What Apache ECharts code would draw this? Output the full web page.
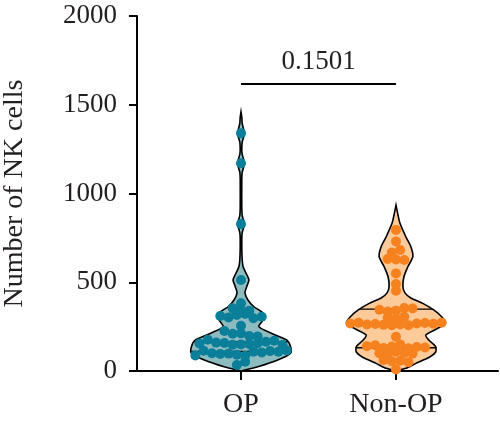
<!DOCTYPE html>
<html><head><meta charset="utf-8">
<script src="https://cdn.jsdelivr.net/npm/echarts@6/dist/echarts.min.js"></script>
<style>html,body{margin:0;padding:0;background:#fff}#c{width:500px;height:429px}</style>
</head><body><div id="c"></div>
<script>
// ---------- data ----------
const categories = ['OP', 'Non-OP'];
const categoryPositions = [1, 2];
const yAxisName = 'Number of NK cells';
const yMin = 0, yMax = 2000, yStep = 500;

// values read row by row (bottom to top, left to right within a row)
const opValues = [34, 52,
  88, 114, 100, 96, 98, 92, 86, 109, 104, 112, 108, 116,
  155, 176, 160, 158, 148, 150, 152, 156, 165, 170, 146,
  225, 210, 212, 197, 195,
  255,
  310, 302, 315, 321, 297, 306,
  353, 340, 340,
  381, 513, 828, 1170, 1340];

const nonOpValues = [8,
  62, 55, 58, 50,
  100, 95, 108, 102, 98,
  140, 145, 130, 138, 150, 128, 135, 132,
  193,
  268, 272, 262, 265, 260, 258, 262, 258, 268, 270, 266, 272,
  300, 295, 305,
  345, 335, 340, 355, 352,
  452, 490, 550, 631, 628, 625, 667, 682, 730, 795];

// violin outlines: level (y value) and relative density (1 = widest)
const opViolinLevels  = [0, 24, 62, 101, 137, 175, 214, 250, 287, 327, 362, 400, 440, 479, 513, 552, 590, 650, 740, 780, 805, 828, 851, 876, 920, 1080, 1120, 1145, 1170, 1195, 1220, 1250, 1290, 1315, 1340, 1365, 1395, 1430, 1460];
const opViolinDensity = [0, 0.34, 0.74, 1.0, 1.0, 0.92, 0.6, 0.36, 0.44, 0.44, 0.26, 0.14, 0.08, 0.12, 0.16, 0.1, 0.04, 0.02, 0.016, 0.024, 0.05, 0.07, 0.05, 0.024, 0.016, 0.016, 0.024, 0.05, 0.07, 0.05, 0.024, 0.016, 0.024, 0.05, 0.07, 0.05, 0.024, 0.016, 0];

const nonOpViolinLevels  = [0, 15, 43, 79, 107, 137, 175, 203, 240, 272, 306, 344, 381, 411, 440, 475, 531, 588, 644, 700, 755, 832, 879, 935];
const nonOpViolinDensity = [0, 0.2, 0.4, 0.68, 0.8, 0.8, 0.66, 0.6, 0.84, 1.0, 0.92, 0.76, 0.54, 0.3, 0.18, 0.14, 0.16, 0.24, 0.34, 0.3, 0.2, 0.08, 0.04, 0];

const comparisonLevel = 1617;
const comparisonText = '0.1501';

// ---------- styling ----------
const FONT = 'Liberation Serif';
const groups = [
  {name: categories[0], pos: categoryPositions[0], values: opValues, levels: opViolinLevels, dens: opViolinDensity, dot: '#0b7f99', fill: '#8dbcc0'},
  {name: categories[1], pos: categoryPositions[1], values: nonOpValues, levels: nonOpViolinLevels, dens: nonOpViolinDensity, dot: '#f5821f', fill: '#fdca9a'}
];
const MAXW = 0.32;      // half width (x units) at density 1
const DOT = 10, SPACING = 8.3, ROWH = 5.5;

function quantile(arr, p) {
  const s = arr.slice().sort((a, b) => a - b);
  const h = (s.length + 1) * p - 1;
  const lo = Math.max(0, Math.floor(h)), hi = Math.min(s.length - 1, lo + 1);
  return s[lo] + (s[hi] - s[lo]) * (h - lo);
}
function densAt(g, v) {
  for (let i = 0; i < g.levels.length - 1; i++) {
    if (v >= g.levels[i] && v <= g.levels[i + 1]) {
      const t = (v - g.levels[i]) / (g.levels[i + 1] - g.levels[i]);
      return g.dens[i] + (g.dens[i + 1] - g.dens[i]) * t;
    }
  }
  return 0;
}

const chart = echarts.init(document.getElementById('c'));
const xMin = 1 - 104 / 155, xMax = xMin + 361 / 155;

const baseOption = {
  animation: false,
  grid: {left: 137, right: 2, top: 16, bottom: 58, containLabel: false, outerBoundsMode: 'none'},
  xAxis: {
    type: 'value', min: xMin, max: xMax,
    axisLine: {show: true, onZero: false, lineStyle: {color: '#000', width: 2}},
    axisTick: {show: true, customValues: categoryPositions, length: 9, lineStyle: {color: '#000', width: 2}},
    axisLabel: {show: true, customValues: categoryPositions, margin: 20, color: '#231f20', fontFamily: FONT, fontSize: 28,
      formatter: v => categories[categoryPositions.indexOf(Math.round(v))] || ''},
    splitLine: {show: false}
  },
  yAxis: {
    type: 'value', min: yMin, max: yMax, interval: yStep,
    name: yAxisName, nameLocation: 'middle', nameGap: 108,
    nameTextStyle: {color: '#231f20', fontFamily: FONT, fontSize: 28},
    axisLine: {show: true, lineStyle: {color: '#000', width: 2}},
    axisTick: {show: true, length: 8, lineStyle: {color: '#000', width: 2}},
    axisLabel: {margin: 20, color: '#231f20', fontFamily: FONT, fontSize: 27, formatter: v => String(v)},
    splitLine: {show: false}
  },
  series: [
    {
      type: 'custom', name: 'violin', z: 2,
      data: groups.map(g => [g.pos]),
      renderItem: (params, api) => {
        const g = groups[params.dataIndex];
        const right = g.levels.map((v, i) => api.coord([g.pos + g.dens[i] * MAXW, v]));
        const left = g.levels.map((v, i) => api.coord([g.pos - g.dens[i] * MAXW, v])).reverse();
        const children = [{
          type: 'polygon', shape: {points: right.concat(left), smooth: 0.25},
          style: {fill: g.fill, stroke: '#000', lineWidth: 1.6}
        }];
        [0.25, 0.5, 0.75].forEach(p => {
          const q = quantile(g.values, p);
          const d = densAt(g, q) * MAXW;
          const a = api.coord([g.pos - d, q]), b = api.coord([g.pos + d, q]);
          children.push({type: 'line', shape: {x1: a[0], y1: a[1], x2: b[0], y2: b[1]}, style: {stroke: '#000', lineWidth: 1.4}});
        });
        return {type: 'group', children};
      }
    },
    {
      type: 'custom', name: 'comparison', z: 3,
      data: [[categoryPositions[0], categoryPositions[1], comparisonLevel]],
      renderItem: (params, api) => {
        const a = api.coord([api.value(0), api.value(2)]);
        const b = api.coord([api.value(1), api.value(2)]);
        return {type: 'group', children: [
          {type: 'line', shape: {x1: a[0], y1: a[1], x2: b[0], y2: b[1]}, style: {stroke: '#000', lineWidth: 2}},
          {type: 'text', x: (a[0] + b[0]) / 2, y: a[1] - 9, style: {text: comparisonText, fill: '#231f20', font: '27px "' + FONT + '"', align: 'center', verticalAlign: 'bottom'}}
        ]};
      }
    }
  ]
};
chart.setOption(baseOption);

function swarm(g) {
  const pts = g.values.map((v, idx) => ({v, idx, py: chart.convertToPixel({yAxisIndex: 0}, v)}));
  pts.sort((a, b) => (b.py - a.py) || (a.idx - b.idx));
  const rows = [];
  let cur = null;
  pts.forEach(p => {
    if (!cur || cur.start - p.py > ROWH) { cur = {start: p.py, items: []}; rows.push(cur); }
    cur.items.push(p);
  });
  const cx = chart.convertToPixel({xAxisIndex: 0}, g.pos);
  const out = [];
  rows.forEach(r => {
    r.items.sort((a, b) => a.idx - b.idx);
    const k = r.items.length;
    r.items.forEach((p, i) => {
      const px = cx + (i - (k - 1) / 2) * SPACING;
      out.push([chart.convertFromPixel({xAxisIndex: 0}, px), p.v]);
    });
  });
  return out;
}

chart.setOption({
  series: baseOption.series.concat(groups.map(g => ({
    type: 'scatter', name: g.name, z: 4, symbolSize: DOT,
    itemStyle: {color: g.dot, opacity: 1},
    data: swarm(g)
  })))
});
</script>
</body></html>
